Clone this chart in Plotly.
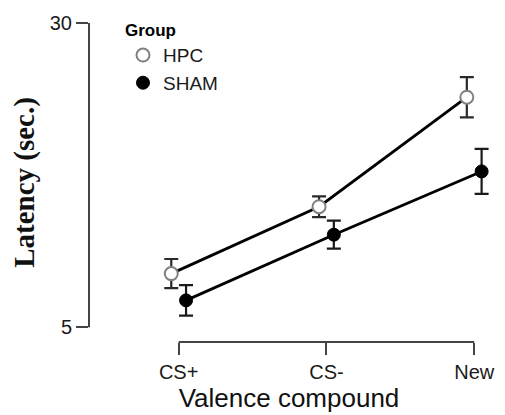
import plotly.graph_objects as go

categories = ["CS+", "CS-", "New"]
groups = ["HPC", "SHAM"]
hpc_mean = [9.4, 14.9, 23.9]
hpc_se = [1.2, 0.85, 1.65]
sham_mean = [7.2, 12.6, 17.8]
sham_se = [1.25, 1.15, 1.85]
y_ticks = [5, 30]

dodge = 0.05
idx = list(range(len(categories)))

hpc_marker = dict(symbol="circle", size=13, color="white",
                  line=dict(color="#808080", width=2))
sham_marker = dict(symbol="circle", size=13, color="black",
                   line=dict(color="black", width=1))

fig = go.Figure()
fig.add_trace(go.Scatter(
    x=[i - dodge for i in idx], y=hpc_mean, name=groups[0],
    mode="lines+markers", showlegend=False,
    line=dict(color="black", width=2.8),
    marker=hpc_marker,
    error_y=dict(type="data", array=hpc_se, visible=True,
                 color="#2a2a2a", thickness=2.2, width=7),
    cliponaxis=False,
))
fig.add_trace(go.Scatter(
    x=[i + dodge for i in idx], y=sham_mean, name=groups[1],
    mode="lines+markers", showlegend=False,
    line=dict(color="black", width=2.8),
    marker=sham_marker,
    error_y=dict(type="data", array=sham_se, visible=True,
                 color="#1a1a1a", thickness=2.2, width=7),
    cliponaxis=False,
))
# legend entries (markers only, as in the reference)
fig.add_trace(go.Scatter(x=[None], y=[None], name=groups[0], mode="markers",
                         marker=hpc_marker, showlegend=True))
fig.add_trace(go.Scatter(x=[None], y=[None], name=groups[1], mode="markers",
                         marker=sham_marker, showlegend=True))

axis_color = "#444444"
fig.add_shape(type="line", xref="paper", yref="y", x0=0, x1=0,
              y0=y_ticks[0], y1=y_ticks[-1],
              line=dict(color=axis_color, width=2))
fig.add_shape(type="line", xref="x", yref="paper", x0=idx[0], x1=idx[-1],
              y0=0, y1=0, line=dict(color=axis_color, width=2))

fig.update_layout(
    width=505, height=415,
    margin=dict(l=89, r=10, t=23, b=70),
    paper_bgcolor="white", plot_bgcolor="white",
    font=dict(family="Liberation Sans, Arial, sans-serif", color="#1a1a1a"),
    showlegend=True,
    legend=dict(
        title=dict(text="<b>Group</b>", font=dict(size=17, color="black")),
        font=dict(size=19, color="#1a1a1a"),
        x=0.085, y=1.028, xanchor="left", yanchor="top",
        bgcolor="rgba(0,0,0,0)", tracegroupgap=0,
    ),
    xaxis=dict(
        range=[-0.6067, 2.1],
        tickvals=idx, ticktext=categories,
        ticks="outside", ticklen=12, tickwidth=2, tickcolor=axis_color,
        showline=False, showgrid=False, zeroline=False,
        tickfont=dict(size=20, color="#1a1a1a"),
        title=dict(text="Valence compound", font=dict(size=26, color="#111111"),
                   standoff=4),
    ),
    yaxis=dict(
        range=[3.778, 30],
        tickvals=y_ticks,
        ticks="outside", ticklen=12, tickwidth=2, tickcolor=axis_color,
        showline=False, showgrid=False, zeroline=False,
        tickfont=dict(size=20, color="#1a1a1a"),
        title=dict(text="<b>Latency (sec.)</b>",
                   font=dict(family="Liberation Serif, Times New Roman, serif",
                             size=29, color="#111111"),
                   standoff=6),
    ),
)

fig.write_html("out.html")
